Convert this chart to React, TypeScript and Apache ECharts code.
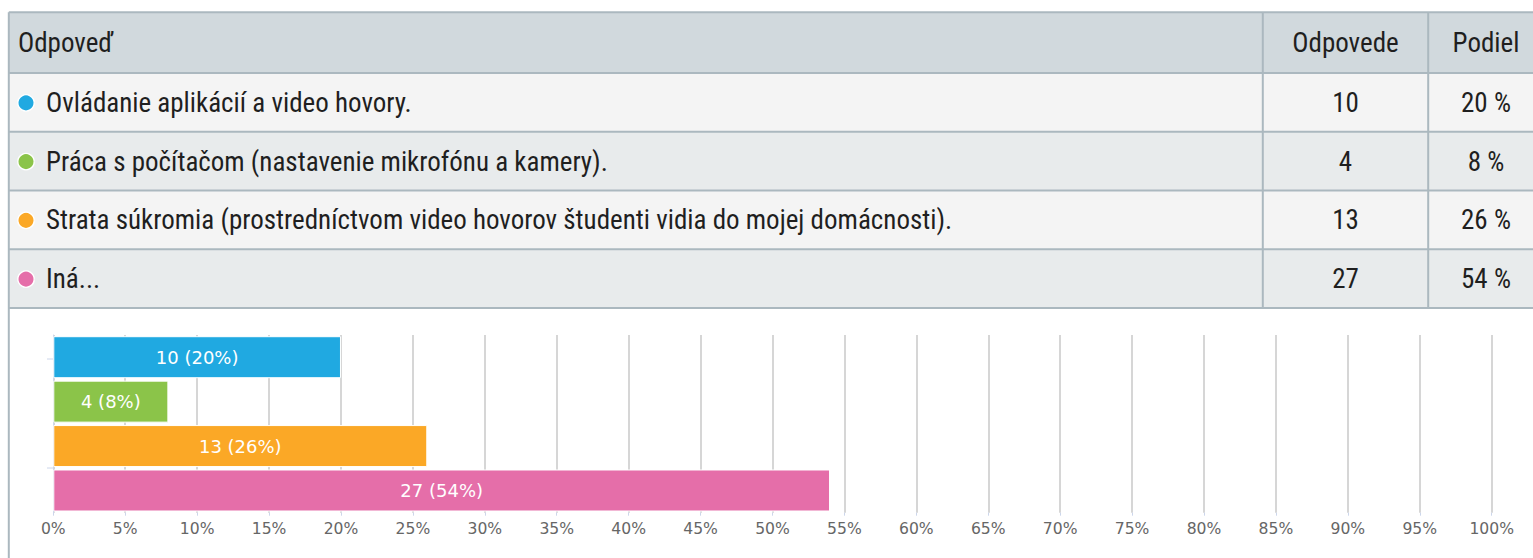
import React, { useEffect, useRef } from "react";
import * as echarts from "echarts";

const headers = ["Odpoveď", "Odpovede", "Podiel"];
const categories = [
  "Ovládanie aplikácií a video hovory.",
  "Práca s počítačom (nastavenie mikrofónu a kamery).",
  "Strata súkromia (prostredníctvom video hovorov študenti vidia do mojej domácnosti).",
  "Iná...",
];
const counts = [10, 4, 13, 27];
const shares = [20, 8, 26, 54];
const colors = ["#20a9e1", "#8bc449", "#fba826", "#e56ea9"];
const xMin = 0;
const xMax = 100;
const xInterval = 5;

const W = 1533;
const H = 558;

export default function App() {
  const ref = useRef<HTMLDivElement>(null);
  useEffect(() => {
    if (!ref.current) return;
    const chart = echarts.init(ref.current, undefined, { renderer: "svg", width: W, height: H });

    const tableFont = '"Liberation Sans Narrow", "Roboto Condensed", "DejaVu Sans Condensed", "Noto Sans", sans-serif';
    const borderColor = "#abb8bf";
    const tableTop = 12.2;
    const headerBottom = 73;
    const rowH = 58.75;
    const col1 = 1262.8;
    const col2 = 1428.2;
    const colEnd = 1545;
    const leftX = 8.8;
    const textColor = "#1f1f1f";
    const fontSize = 27;

    const g: any[] = [];
    g.push({ type: "rect", shape: { x: leftX, y: tableTop, width: colEnd - leftX, height: headerBottom - tableTop }, style: { fill: "#d1d9dd" }, z: 1 });
    categories.forEach((_, i) => {
      g.push({
        type: "rect",
        shape: { x: leftX, y: headerBottom + i * rowH, width: colEnd - leftX, height: rowH },
        style: { fill: i % 2 === 0 ? "#f4f4f4" : "#e8ebec" },
        z: 1,
      });
    });
    const tableBottom = headerBottom + categories.length * rowH;
    const hLines = [tableTop, headerBottom];
    categories.forEach((_, i) => hLines.push(headerBottom + (i + 1) * rowH));
    hLines.forEach((y) => {
      g.push({ type: "line", shape: { x1: leftX, y1: y, x2: colEnd, y2: y }, style: { stroke: borderColor, lineWidth: 2 }, z: 3 });
    });
    g.push({ type: "line", shape: { x1: leftX, y1: tableTop, x2: leftX, y2: H }, style: { stroke: borderColor, lineWidth: 2 }, z: 3 });
    [col1, col2].forEach((x) => {
      g.push({ type: "line", shape: { x1: x, y1: tableTop, x2: x, y2: tableBottom }, style: { stroke: borderColor, lineWidth: 2 }, z: 3 });
    });
    const headerCy = (tableTop + headerBottom) / 2 + 0.5;
    g.push({ type: "text", x: 18, y: headerCy, style: { text: headers[0], font: `${fontSize}px ${tableFont}`, fill: textColor, verticalAlign: "middle", align: "left" }, z: 4 });
    g.push({ type: "text", x: (col1 + col2) / 2, y: headerCy, style: { text: headers[1], font: `${fontSize}px ${tableFont}`, fill: textColor, verticalAlign: "middle", align: "center" }, z: 4 });
    g.push({ type: "text", x: 1486, y: headerCy, style: { text: headers[2], font: `${fontSize}px ${tableFont}`, fill: textColor, verticalAlign: "middle", align: "center" }, z: 4 });
    categories.forEach((c, i) => {
      const cy = headerBottom + i * rowH + rowH / 2 + 0.5;
      g.push({ type: "circle", shape: { cx: 26, cy, r: 8.2 }, style: { fill: colors[i], stroke: "#ffffff", lineWidth: 1.4 }, z: 4 });
      g.push({ type: "text", x: 46, y: cy, style: { text: c, font: `${fontSize}px ${tableFont}`, fill: textColor, verticalAlign: "middle", align: "left" }, z: 4 });
      g.push({ type: "text", x: (col1 + col2) / 2, y: cy, style: { text: String(counts[i]), font: `${fontSize}px ${tableFont}`, fill: textColor, verticalAlign: "middle", align: "center" }, z: 4 });
      g.push({ type: "text", x: 1486, y: cy, style: { text: `${shares[i]} %`, font: `${fontSize}px ${tableFont}`, fill: textColor, verticalAlign: "middle", align: "center" }, z: 4 });
    });
    [359, 468].forEach((y) => {
      g.push({ type: "line", shape: { x1: 47, y1: y, x2: 53, y2: y }, style: { stroke: "#ccd6eb", lineWidth: 1 }, z: 4 });
    });

    const chartFont = '"DejaVu Sans", Verdana, sans-serif';

    chart.setOption({
      animation: false,
      backgroundColor: "#ffffff",
      grid: { left: 53.3, right: W - 1491.7, top: 335, bottom: H - 512.7, containLabel: false },
      xAxis: {
        type: "value",
        min: xMin,
        max: xMax,
        interval: xInterval,
        axisLine: { show: false },
        axisTick: { show: true, length: 3, lineStyle: { color: "#ccd6eb" } },
        splitLine: { show: true, lineStyle: { color: "#c8c8c8", width: 1.5 } },
        axisLabel: { formatter: "{value}%", color: "#666666", fontSize: 15.6, fontFamily: chartFont, margin: 8 },
      },
      yAxis: {
        type: "category",
        inverse: true,
        data: categories,
        axisLabel: { show: false },
        axisTick: { show: false },
        axisLine: { show: true, lineStyle: { color: "#ccd6eb", width: 1 } },
        splitLine: { show: false },
      },
      series: [
        {
          type: "bar",
          barWidth: 42,
          data: shares.map((v, i) => ({
            value: v,
            itemStyle: { color: colors[i], borderColor: "#ffffff", borderWidth: 1 },
          })),
          label: {
            show: true,
            position: "inside",
            color: "#ffffff",
            fontSize: 18,
            fontFamily: chartFont,
            formatter: (p: any) => `${counts[p.dataIndex]} (${shares[p.dataIndex]}%)`,
          },
          z: 2,
        },
      ],
      graphic: { elements: g },
    });
    return () => chart.dispose();
  }, []);
  return <div ref={ref} style={{ position: "fixed", left: 0, top: 0, width: W, height: H }} />;
}
